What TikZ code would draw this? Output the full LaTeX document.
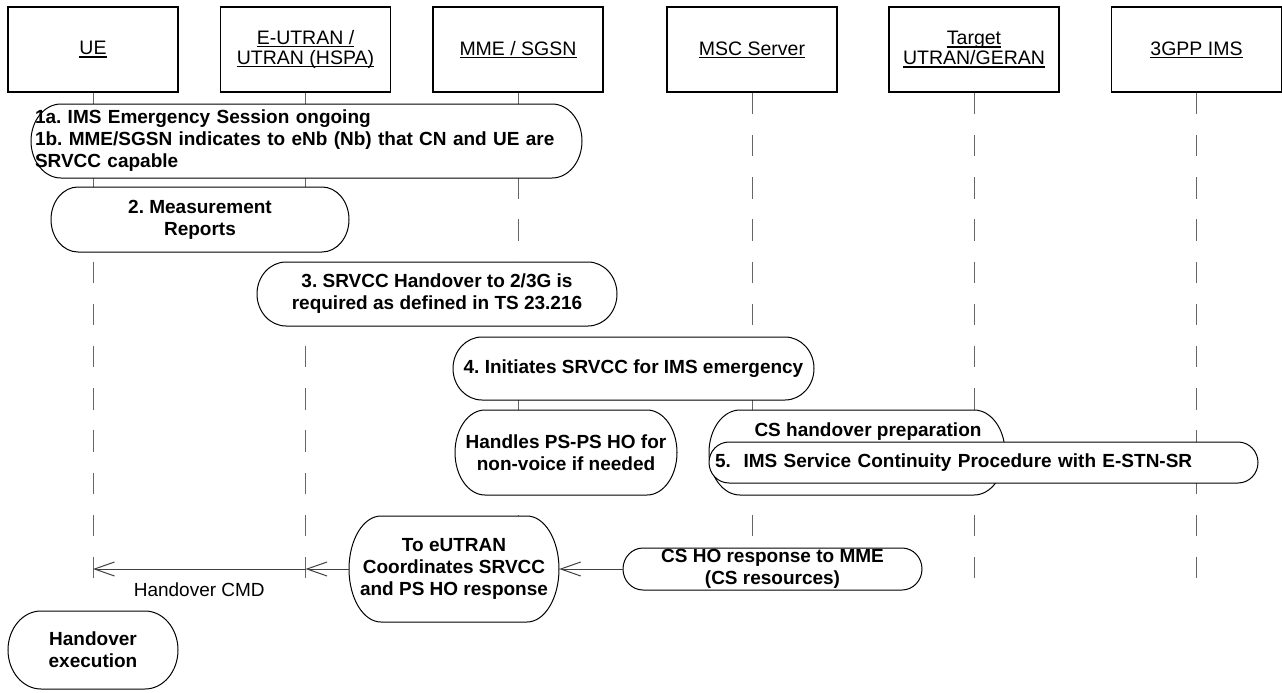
\documentclass[tikz,border=0pt]{standalone}
\usepackage{fontspec}
\setmainfont{Liberation Sans}
\usetikzlibrary{arrows.meta}
\frenchspacing
\newcommand\mytul[1]{\setbox0\hbox{#1}\rlap{\rule[-2.6pt]{\wd0}{1.1pt}}\box0}
% bubble: [node options]{name}{cx}{cy}{width}{height}{end radius}{text}
\newcommand\bubble[8][]{%
  \draw[bubline] ({#3+#5/2-#7},{#4-#6/2})
    arc[start angle=90,end angle=-90,x radius=#7pt,y radius=#6pt/2]
    -- ({#3-#5/2+#7},{#4+#6/2})
    arc[start angle=270,end angle=90,x radius=#7pt,y radius=#6pt/2] -- cycle;
  \node[bub,#1,minimum width=#5pt,minimum height=#6pt] (#2) at (#3,#4) {#8};%
}
\begin{document}
\begin{tikzpicture}[x=1pt,y=-1pt,
  actor/.style={draw=black, line width=1.5pt, minimum width=170pt, minimum height=85pt,
    align=center, inner sep=0pt, font=\fontsize{19.5}{20}\selectfont},
  life/.style={draw=black!60, line width=1pt, dash pattern=on 21.5pt off 20.7pt},
  bubline/.style={draw=black, line width=1pt, fill=white},
  bub/.style={align=center, inner sep=0pt, font=\fontsize{19}{22}\selectfont\bfseries},
  bubtext/.style={inner sep=0pt, font=\fontsize{19}{22}\selectfont\bfseries},
  msg/.style={draw=black!75, line width=1pt,
    -{Straight Barb[length=20pt,width=14pt,line width=1pt]}},
  msglabel/.style={font=\fontsize{19}{22}\selectfont, inner sep=0pt}
]
\useasboundingbox (0,0) rectangle (1282,693);

% actors
\node[actor] (ue)  at (93,49.5)    {\mytul{UE}};
\node[actor] (eu)  at (305.5,49.5) {\mytul{E-UTRAN /}\\\mytul{UTRAN (HSPA)}};
\node[actor] (mme) at (518,49.5)   {\mytul{MME / SGSN}};
\node[actor] (msc) at (752,49.5)   {\mytul{MSC Server}};
\node[actor] (tgt) at (974,49.5)   {\mytul{Target}\\\mytul{UTRAN/GERAN}};
\node[actor] (ims) at (1196.5,49.5){\mytul{3GPP IMS}};

% lifelines
\coordinate (lifeend) at (0,579);
\foreach \n in {ue,eu,mme,msc,tgt,ims}
  \draw[life] (\n.south) -- (\n.south |- lifeend);

% bubbles
\bubble[align=left, text width=543pt]{b1}{306.5}{141}{551}{74}{30}
  {1a. IMS Emergency Session ongoing\\1b. MME/SGSN indicates to eNb (Nb) that CN and UE are\\SRVCC capable}
\bubble{b2}{200}{219.5}{298}{65}{27}{2. Measurement\\Reports}
\bubble{b3}{437}{294}{360}{64}{29}{3. SRVCC Handover to 2/3G is\\required as defined in TS 23.216}
\bubble{b4}{633.5}{368.5}{361}{63}{29}{4. Initiates SRVCC for IMS emergency}
\bubble{bh}{566}{452.5}{222}{85}{30}{Handles PS-PS HO for\\non-voice if needed}
\bubble{bcs}{857}{452.5}{296}{85}{31}{}
\node[bubtext, anchor=base] (bcstext) at (868,436) {CS handover preparation};
\bubble[align=left, text width=537pt]{b5}{983.5}{462.5}{549}{41}{20}
  {5.\ \ IMS Service Continuity Procedure with E-STN-SR}
\bubble{bto}{454}{569}{210}{106}{32}{To eUTRAN\\Coordinates SRVCC\\and PS HO response}
\bubble{bcsho}{772.5}{569}{299}{42}{20}{CS HO response to MME\\(CS resources)}
\bubble{bhe}{93}{650}{170}{78}{33}{Handover\\execution}

% messages
\draw[msg] (bcsho.west) -- (bto.east);
\draw[msg] (bto.west) -- (bto.west -| eu.south);
\draw[msg] (bto.west -| eu.south) -- (bto.west -| ue.south)
  node[msglabel, midway, anchor=base, yshift=-27pt] (cmd) {Handover CMD};
\end{tikzpicture}
\end{document}
